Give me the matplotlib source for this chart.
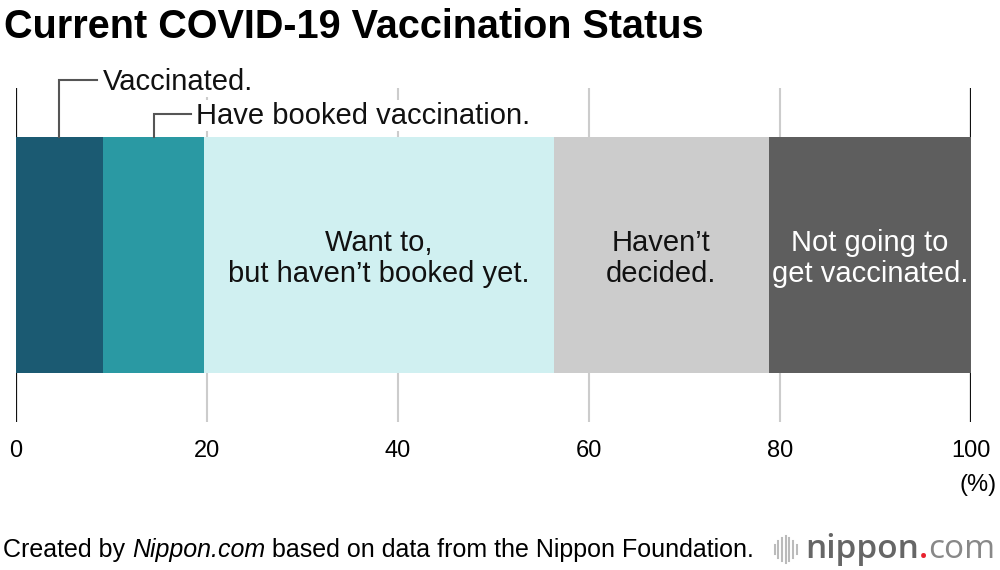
import matplotlib.pyplot as plt
from matplotlib.lines import Line2D

# Data: share of respondents (%)
categories = ["Vaccinated.", "Have booked vaccination.", "Want to,\nbut haven\u2019t booked yet.",
              "Haven\u2019t\ndecided.", "Not going to\nget vaccinated."]
shares = [9.1, 10.6, 36.6, 22.5, 21.2]
colors = ["#1b5a72", "#2a99a3", "#d0f0f1", "#cccccc", "#5e5e5e"]
text_colors = ["white", "white", "#111111", "#111111", "white"]
ticks = [0, 20, 40, 60, 80, 100]

plt.rcParams["font.family"] = ["Liberation Sans", "DejaVu Sans"]

fig = plt.figure(figsize=(10, 5.7), dpi=100)
ax = fig.add_axes([0.016, 0.2596, 0.955, 0.586])

# Grid lines (black at both ends, light grey inside)
for t in ticks:
    edge = t in (0, 100)
    ax.axvline(t, color="#111111" if edge else "#cccccc", lw=1.6 if edge else 1.5, zorder=0)

# Stacked bar
left = 0
lefts = []
for s, c in zip(shares, colors):
    ax.barh(0, s, left=left, height=1.0, color=c, edgecolor="none", zorder=2)
    lefts.append(left)
    left += s

# Labels inside the wide segments
for i in range(2, len(shares)):
    ax.text(lefts[i] + shares[i] / 2, -0.015, categories[i], ha="center", va="center",
            fontsize=21, color=text_colors[i], linespacing=1.12, zorder=3)

# Callouts for the two narrow segments
callouts = [(0, 0.5 + 57 / 236), (1, 0.5 + 23 / 236)]
for i, ytop in callouts:
    xm = lefts[i] + shares[i] / 2
    ax.plot([xm, xm, xm + 3.9], [0.5, ytop, ytop], color="#555555", lw=1.5,
            zorder=3, solid_joinstyle="miter", clip_on=False)
    ax.text(xm + 4.5, ytop - 0.008, categories[i], ha="left", va="center", fontsize=21,
            color="#111111", zorder=4,
            bbox=dict(facecolor="white", edgecolor="none", pad=1))

ax.set_xlim(0, 100)
ax.set_ylim(-0.5 - 49 / 236, 0.5 + 49 / 236)
ax.set_yticks([])
ax.set_xticks(ticks)
ax.set_xticklabels([str(t) for t in ticks], fontsize=17)
ax.tick_params(axis="x", length=0, pad=13)
for sp in ax.spines.values():
    sp.set_visible(False)

fig.text(0.997, 0.150, "(%)", ha="right", va="center", fontsize=17)

# Title
fig.text(0.004, 0.952, "Current COVID-19 Vaccination Status", ha="left", va="center",
         fontsize=28.5, fontweight="bold", color="#000000")

# Source line
t1 = fig.text(0.003, 0.023, "Created by ", ha="left", va="baseline", fontsize=18)
t2 = ax.annotate("Nippon.com", xy=(1, 0), xycoords=t1, va="bottom", ha="left",
                 fontsize=18, style="italic")
ax.annotate(" based on data from the Nippon Foundation.", xy=(1, 0), xycoords=t2,
            va="bottom", ha="left", fontsize=18)

# Logo
wave = [0.35, 0.6, 0.85, 1.0, 0.85, 0.6, 0.35]
for k, h in enumerate(wave):
    x = 0.7745 + k * 0.0037
    fig.add_artist(Line2D([x, x], [0.036 - 0.024 * h, 0.036 + 0.024 * h],
                          color="#bbbbbb", lw=1.5))
l1 = fig.text(0.805, 0.036, "nippon", ha="left", va="center", fontsize=24,
              family=["Open Sans", "DejaVu Sans"], fontweight="semibold", color="#666666")
l2 = ax.annotate(".", xy=(1, 0), xycoords=l1, va="bottom", ha="left", fontsize=24,
                 family=["Open Sans", "DejaVu Sans"], fontweight="semibold", color="#e8212e")
ax.annotate("com", xy=(1, 0), xycoords=l2, va="bottom", ha="left", fontsize=24,
            family=["Open Sans", "DejaVu Sans"], color="#888888")

fig.savefig("out.png", dpi=100, facecolor="white")
